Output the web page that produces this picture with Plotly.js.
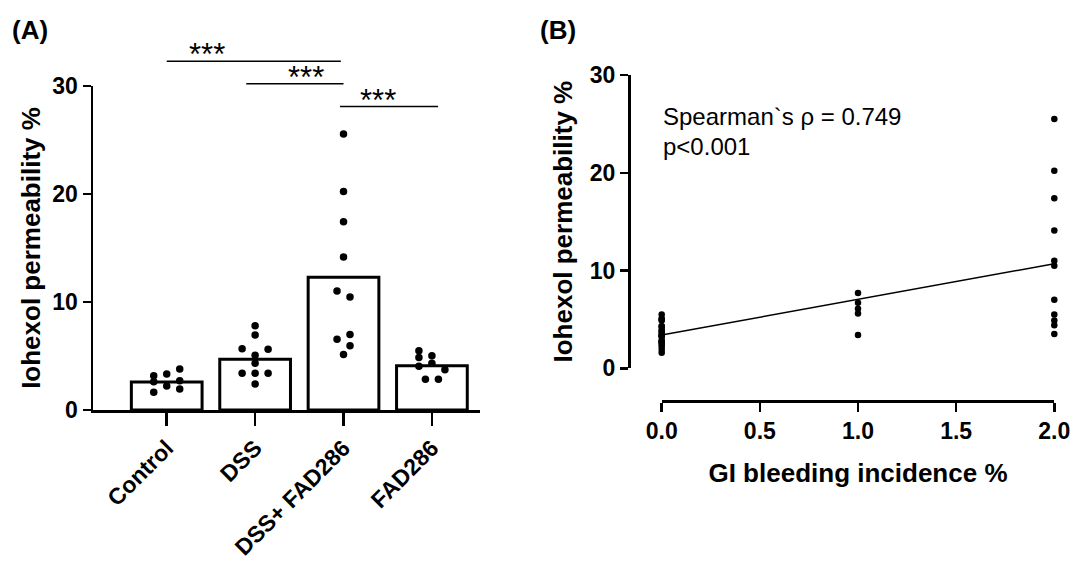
<!DOCTYPE html>
<html><head><meta charset="utf-8">
<script src="https://cdn.plot.ly/plotly-3.0.1.min.js"></script>
<style>html,body{margin:0;padding:0;background:#fff}#chart{width:1070px;height:561px}</style>
</head><body><div id="chart"></div>
<script>
// ---------- Panel A data ----------
const categories = ['Control', 'DSS', 'DSS+ FAD286', 'FAD286'];
const barMeans = [2.6, 4.7, 12.3, 4.1];
const controlVals = [3.8, 3.33, 3.18, 2.71, 2.62, 2.22, 1.94, 1.64];
const controlSlot = [1, 0, -1, 1, -1, 0, 1, -1];
const dssVals = [7.81, 6.94, 5.68, 5.62, 5.06, 4.32, 3.4, 3.4, 3.4, 2.41];
const dssSlot = [0, 0, -1, 1, 0, 0, -1, 0, 1, 0];
const dssFadVals = [25.56, 20.22, 17.44, 14.17, 11.02, 10.46, 6.98, 6.54, 5.96, 5.15];
const dssFadSlot = [0, 0, 0, 0, -0.5, 0.5, 0.5, -0.5, 0.5, 0];
const fadVals = [5.49, 5.03, 4.85, 4.32, 4.04, 3.73, 2.84, 2.84];
const fadSlot = [-1, 0, -1, 0, -1, 1, -0.5, 0.5];
// significance brackets (category index from/to, height) and labels
const bracketFrom = [0, 0.9, 1.96];
const bracketTo = [1.97, 2.0, 3.07];
const bracketY = [32.3, 30.2, 28.1];
const starX = [0.46, 1.57, 2.39];
const starText = ['***', '***', '***'];

// ---------- Panel B data ----------
const bleedLevels = [0, 1, 2];
const perm0 = [5.5, 5.0, 4.9, 4.3, 4.0, 3.7, 2.8, 2.8, 3.8, 3.3, 3.2, 2.7, 2.6, 2.2, 1.9, 1.6, 5.1, 4.3, 3.4, 3.4, 2.4];
const perm1 = [7.7, 6.7, 6.1, 5.6, 3.4];
const perm2 = [25.5, 20.2, 17.4, 14.1, 11.0, 10.5, 7.0, 5.5, 4.9, 4.4, 3.5];
const fitX = [0, 2];
const fitY = [3.4, 10.7];
const spearmanText = 'Spearman`s ρ = 0.749';
const pText = 'p&lt;0.001';

// ---------- build ----------
const FONT = 'Liberation Sans, Arial, sans-serif';
const slotW = 0.147;
const groups = [[controlVals, controlSlot], [dssVals, dssSlot], [dssFadVals, dssFadSlot], [fadVals, fadSlot]];
const ptsX = [], ptsY = [];
groups.forEach((g, i) => {
  g[0].forEach((v, j) => { ptsX.push(i + g[1][j] * slotW); ptsY.push(v); });
});
const catIdx = categories.map((c, i) => i);

const traces = [
  {type: 'bar', x: catIdx, y: barMeans, width: 0.8, xaxis: 'x', yaxis: 'y',
   marker: {color: 'rgba(255,255,255,1)', line: {color: '#000', width: 3}}, hoverinfo: 'none'},
  {type: 'scatter', mode: 'markers', x: ptsX, y: ptsY, xaxis: 'x', yaxis: 'y',
   marker: {color: '#000', size: 7.5}, cliponaxis: false, hoverinfo: 'none'},
  {type: 'scatter', mode: 'lines', x: fitX, y: fitY, xaxis: 'x2', yaxis: 'y2',
   line: {color: '#000', width: 1.5}, hoverinfo: 'none'},
  {type: 'scatter', mode: 'markers',
   x: perm0.map(() => bleedLevels[0]).concat(perm1.map(() => bleedLevels[1]), perm2.map(() => bleedLevels[2])),
   y: perm0.concat(perm1, perm2), xaxis: 'x2', yaxis: 'y2',
   marker: {color: '#000', size: 6.5}, cliponaxis: false, hoverinfo: 'none'}
];

const shapes = bracketY.map((y, i) => ({type: 'line', xref: 'x3', yref: 'y3',
  x0: bracketFrom[i], x1: bracketTo[i], y0: y, y1: y, line: {color: '#000', width: 1.5}}));

const annotations = [
  {text: '<b>(A)</b>', xref: 'paper', yref: 'paper', x: 10 / 1070, y: 1 - 13 / 561, xanchor: 'left', yanchor: 'top',
   showarrow: false, font: {family: FONT, size: 26, color: '#000'}},
  {text: '<b>(B)</b>', xref: 'paper', yref: 'paper', x: 538 / 1070, y: 1 - 13 / 561, xanchor: 'left', yanchor: 'top',
   showarrow: false, font: {family: FONT, size: 26, color: '#000'}},
  {text: spearmanText, xref: 'paper', yref: 'paper', x: 661 / 1070, y: 1 - 116 / 561, xanchor: 'left', yanchor: 'middle',
   showarrow: false, font: {family: FONT, size: 24, color: '#000'}},
  {text: pText, xref: 'paper', yref: 'paper', x: 661 / 1070, y: 1 - 146 / 561, xanchor: 'left', yanchor: 'middle',
   showarrow: false, font: {family: FONT, size: 24, color: '#000'}}
].concat(starX.map((x, i) => ({text: starText[i], xref: 'x3', yref: 'y3', x: x, y: bracketY[i],
  xanchor: 'center', yanchor: 'bottom', yshift: -13, showarrow: false,
  font: {family: FONT, size: 31, color: '#000'}})));

const tickFont = {family: FONT, size: 23, color: '#000', weight: 'bold'};
const titleFont = {family: FONT, size: 26, color: '#000', weight: 'bold'};
const axBase = {showgrid: false, zeroline: false, showline: true, linecolor: '#000', linewidth: 2.5,
  ticks: 'outside', tickcolor: '#000', tickwidth: 2.5, tickfont: tickFont, fixedrange: true,
  ticklabeloverflow: 'allow'};

const layout = {
  width: 1070, height: 561, margin: {l: 0, r: 0, t: 0, b: 0},
  paper_bgcolor: '#fff', plot_bgcolor: 'rgba(0,0,0,0)', showlegend: false, font: {family: FONT, color: '#000'},
  xaxis: Object.assign({}, axBase, {domain: [93 / 1070, 480 / 1070], range: [-0.834, 3.544], anchor: 'y',
    tickvals: catIdx, ticktext: categories, tickangle: -45, ticklen: 13}),
  yaxis: Object.assign({}, axBase, {domain: [1 - 410 / 561, 1 - 86 / 561], range: [0, 30], anchor: 'x',
    tickvals: [0, 10, 20, 30], ticklen: 8,
    title: {text: 'Iohexol permeability %', font: titleFont, standoff: 4}}),
  xaxis2: Object.assign({}, axBase, {domain: [661.7 / 1070, 1054.3 / 1070], range: [0, 2], anchor: 'free',
    position: 1 - 401 / 561, tickvals: [0, 0.5, 1, 1.5, 2], tickformat: '.1f', ticklen: 9,
    title: {text: 'GI bleeding incidence %', font: titleFont, standoff: 20}}),
  yaxis2: Object.assign({}, axBase, {domain: [1 - 368.3 / 561, 1 - 75 / 561], range: [0, 30], anchor: 'free',
    position: 629 / 1070, tickvals: [0, 10, 20, 30], ticklen: 8,
    title: {text: 'Iohexol permeability %', font: titleFont, standoff: 8}}),
  xaxis3: {domain: [93 / 1070, 480 / 1070], range: [-0.834, 3.544], anchor: 'y3', visible: false, fixedrange: true},
  yaxis3: {domain: [1 - 410 / 561, 1], range: [0, 410 / 10.8], anchor: 'x3', visible: false, fixedrange: true},
  shapes: shapes,
  annotations: annotations
};

Plotly.newPlot('chart', traces, layout, {staticPlot: true, displayModeBar: false});
</script>
</body></html>
